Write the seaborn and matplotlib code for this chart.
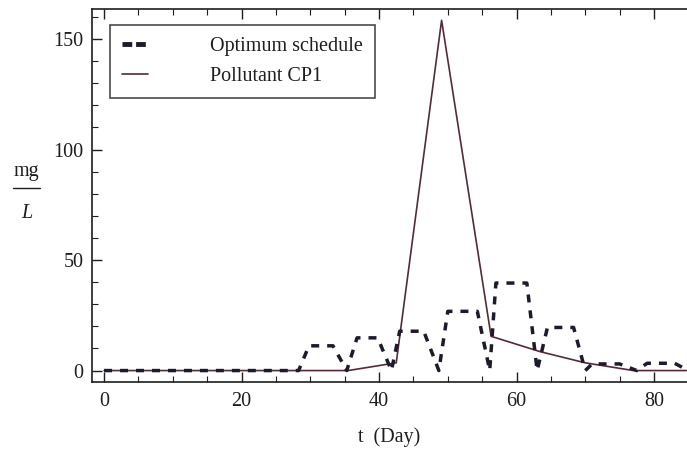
import matplotlib
matplotlib.use("Agg")
import matplotlib.pyplot as plt
import seaborn as sns
import pandas as pd
from matplotlib.lines import Line2D

# Data
cp1_days = [0, 7, 14, 21, 28, 35.5, 42.5, 49.1, 56.3, 63.5, 70, 77, 85]
cp1_vals = [0, 0, 0, 0, 0, 0, 3.5, 158.5, 15.5, 8.5, 3.5, 0, 0]

sched_days = [0, 28.3, 29.8, 33.3, 35.3,
              36.8, 39.8, 41.8,
              43.0, 46.5, 48.7,
              50.0, 54.3, 56.1,
              57.0, 61.5, 63.0,
              64.5, 68.3, 70.0,
              71.0, 75.0, 77.5,
              79.0, 83.0, 85.0]
sched_vals = [0, 0, 11.2, 11.2, 0,
              14.8, 14.8, 0,
              17.8, 17.8, 0,
              26.8, 26.8, 0,
              39.6, 39.6, 0,
              19.5, 19.5, 0,
              3, 3, 0,
              3.3, 3.3, 0]

x_ticks = [0, 20, 40, 60, 80]
y_ticks = [0, 50, 100, 150]
legend_labels = ["Optimum schedule", "Pollutant CP1"]

sns.set_theme(style="ticks")
plt.rcParams["font.family"] = ["Liberation Serif", "DejaVu Serif"]
plt.rcParams["mathtext.fontset"] = "stix"

FS = 14.5
fig = plt.figure(figsize=(6.87, 4.5), dpi=100)
ax = fig.add_axes([0.1335, 0.151, 0.8665, 0.829])

sched_color = "#1b1b2b"
cp1_color = "#552a3a"
ink = "#1e1e1e"

df_s = pd.DataFrame({"t": sched_days, "v": sched_vals})
df_c = pd.DataFrame({"t": cp1_days, "v": cp1_vals})

sns.lineplot(data=df_c, x="t", y="v", ax=ax, color=cp1_color, linewidth=1.2,
             estimator=None, sort=False)
sns.lineplot(data=df_s, x="t", y="v", ax=ax, color=sched_color, linewidth=2.5,
             linestyle=(0, (2.3, 2.3)), estimator=None, sort=False)

ax.set_xlim(-1.8, 84.8)
ax.set_ylim(-5.2, 163.6)
ax.set_xticks(x_ticks)
ax.set_yticks(y_ticks)
ax.set_xticks([v for v in range(0, 85, 5) if v % 20], minor=True)
ax.set_yticks([v for v in range(0, 161, 10) if v % 50], minor=True)
ax.tick_params(which="both", direction="in", top=True, right=False,
               labelsize=FS, colors=ink)
ax.tick_params(which="major", length=7, width=1)
ax.tick_params(which="minor", length=4, width=0.8)
ax.tick_params(axis="x", pad=7)
ax.tick_params(axis="y", pad=6)
for s in ["left", "bottom", "top"]:
    ax.spines[s].set_linewidth(1.2)
    ax.spines[s].set_color(ink)
ax.spines["right"].set_visible(False)

ax.set_xlabel("t  (Day)", fontsize=FS, labelpad=12, color=ink)
ax.set_ylabel("")
# fraction-style unit label mg / L
fig.text(0.0386, 0.609, "mg", fontsize=FS, ha="center", va="baseline", color=ink)
fig.text(0.0386, 0.516, "L", fontsize=FS, style="italic", ha="center",
         va="baseline", color=ink)
fig.add_artist(Line2D([0.019, 0.058], [0.582, 0.582], transform=fig.transFigure,
                      color=ink, linewidth=1.0))

handles = [
    Line2D([0], [0], color=sched_color, linewidth=3.5,
           linestyle=(0, (2.0, 0.8))),
    Line2D([0], [0], color=cp1_color, linewidth=1.2),
]
leg = ax.legend(handles, legend_labels, loc="upper left",
                bbox_to_anchor=(0.03, 0.957), fontsize=FS, frameon=True,
                fancybox=False, edgecolor=ink, handlelength=1.3,
                handletextpad=3.1, borderpad=0.6, labelspacing=0.55,
                borderaxespad=0)
leg.get_frame().set_linewidth(1.2)
for t in leg.get_texts():
    t.set_color(ink)

fig.savefig("out.png", dpi=100)
